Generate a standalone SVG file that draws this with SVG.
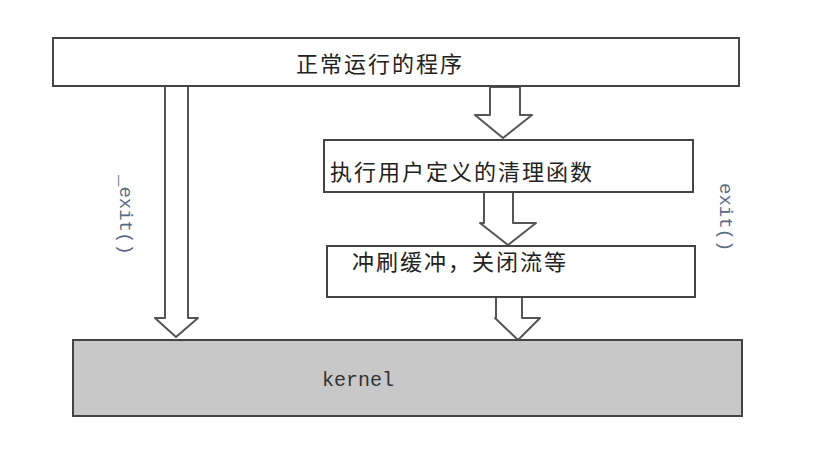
<svg xmlns="http://www.w3.org/2000/svg" width="814" height="462" viewBox="0 0 814 462">
<style>
.box{fill:#fff;stroke:#444;stroke-width:2}
.arr{fill:#fff;stroke:#555;stroke-width:2;stroke-linejoin:round}
.cn{font-family:"Noto Sans CJK SC",sans-serif;font-size:22px;letter-spacing:2px;fill:#222}
.mono{font-family:"Liberation Mono",monospace;font-size:20px;fill:#333}
.lbl{font-family:"Liberation Mono",monospace;font-size:19px;fill:#5a6a85}
</style>
<rect width="814" height="462" fill="#fff"/>
<g id="connectors">
<polygon class="arr" points="165,86 188,86 188,318 198,318 176,337 155,318 165,318"/>
<polygon class="arr" points="490,87 520,87 520,115 532,115 503,138 475,115 490,115"/>
<polygon class="arr" points="484,192 513,192 513,223 536,223 508,245 480,223 484,223"/>
<polygon class="arr" points="496,297 522,297 522,318 540,318 518,340 495,318 496,318"/>
</g>
<g id="top"><rect class="box" x="53" y="38" width="686" height="48"/><text class="cn" x="380" y="72" text-anchor="middle">正常运行的程序</text></g>
<g id="cleanup"><rect class="box" x="324" y="140" width="369" height="52"/><text class="cn" x="330" y="180">执行用户定义的清理函数</text></g>
<g id="flush"><rect class="box" x="327" y="246" width="368" height="51"/><text class="cn" x="352" y="270">冲刷缓冲，关闭流等</text></g>
<g id="kernel"><rect x="73" y="340" width="669" height="76" fill="#c8c8c8" stroke="#444" stroke-width="2"/><text class="mono" x="358" y="386" text-anchor="middle">kernel</text></g>
<g id="labels">
<text class="lbl" transform="translate(120,175) rotate(90)">_exit()</text>
<text class="lbl" transform="translate(720,183) rotate(90)">exit()</text>
</g>
</svg>
